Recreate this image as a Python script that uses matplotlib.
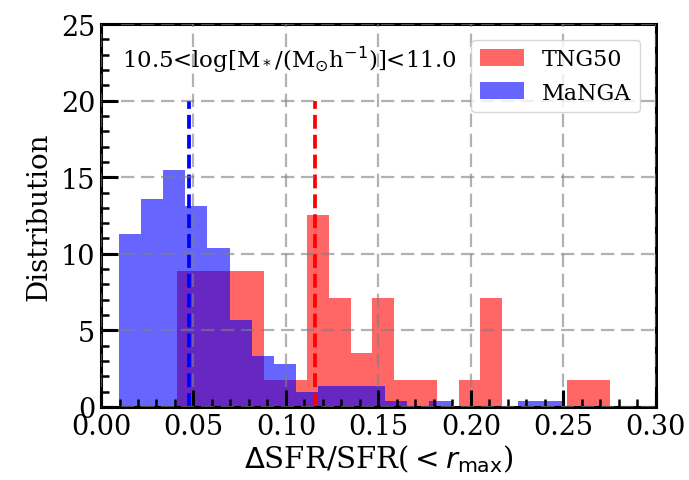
import numpy as np
import matplotlib
matplotlib.use("Agg")
import matplotlib.pyplot as plt
from matplotlib.ticker import MultipleLocator

# histogram bins (left edge, bin width, number of bins) and heights
tng_start, tng_width, tng_nbins = 0.0413, 0.0117, 20
tng_heights = [8.9, 8.9, 8.9, 8.9, 1.78, 1.78, 12.5, 7.1, 3.55, 7.1,
               1.78, 1.78, 0.0, 1.78, 7.1, 0.0, 0.0, 0.0, 1.78, 1.78]

manga_start, manga_width, manga_nbins = 0.0095, 0.0120, 20
manga_heights = [11.3, 13.6, 15.5, 13.1, 10.4, 5.7, 3.3, 2.8, 1.0, 1.4,
                 1.4, 1.4, 0.4, 0.0, 0.4, 0.0, 0.0, 0.0, 0.4, 0.4]

# medians of each sample
tng_median = 0.1157
manga_median = 0.0476

plt.rcParams['font.family'] = 'DejaVu Serif'
plt.rcParams['mathtext.fontset'] = 'dejavusans'

fig = plt.figure(figsize=(6.89, 4.81), dpi=100)
ax = fig.add_axes([0.1466, 0.1518, 0.8054, 0.7962])

tng_edges = tng_start + tng_width * np.arange(tng_nbins + 1)
manga_edges = manga_start + manga_width * np.arange(manga_nbins + 1)

ax.hist(tng_edges[:-1], bins=tng_edges, weights=tng_heights,
        color='red', alpha=0.6, label='TNG50')
ax.hist(manga_edges[:-1], bins=manga_edges, weights=manga_heights,
        color='blue', alpha=0.6, label='MaNGA')

ax.vlines(tng_median, 0, 20, colors='red', linestyles='--', lw=2.7)
ax.vlines(manga_median, 0, 20, colors='blue', linestyles='--', lw=2.7)

ax.set_xlim(0, 0.30)
ax.set_ylim(0, 25)
ax.xaxis.set_major_locator(MultipleLocator(0.05))
ax.xaxis.set_minor_locator(MultipleLocator(0.01))
ax.yaxis.set_major_locator(MultipleLocator(5))
ax.yaxis.set_minor_locator(MultipleLocator(1))
ax.set_xticks([0.0, 0.05, 0.10, 0.15, 0.20, 0.25, 0.30])
ax.set_xticklabels(['0.00', '0.05', '0.10', '0.15', '0.20', '0.25', '0.30'])
ax.tick_params(which='major', direction='in', length=12, width=2.2,
               labelsize=19.5, pad=4)
ax.tick_params(which='minor', direction='in', length=6, width=1.8)
for s in ax.spines.values():
    s.set_linewidth(2.2)

ax.grid(True, which='major', color='gray', alpha=0.6, lw=1.6, dashes=(6, 3))
ax.set_axisbelow(False)

ax.set_xlabel(r'$\Delta$SFR/SFR($<r_{\rm max}$)', fontsize=21, labelpad=2)
ax.set_ylabel('Distribution', fontsize=20, labelpad=6)

ax.text(0.038, 0.91, r'10.5<log[M$_*$/(M$_{\odot}$h$^{-1}$)]<11.0',
        transform=ax.transAxes, fontsize=16.5, va='center', ha='left')

ax.legend(loc='upper right', fontsize=16, handlelength=2.0, handleheight=0.8,
          borderaxespad=0.7)

fig.savefig('out.png', dpi=100)
